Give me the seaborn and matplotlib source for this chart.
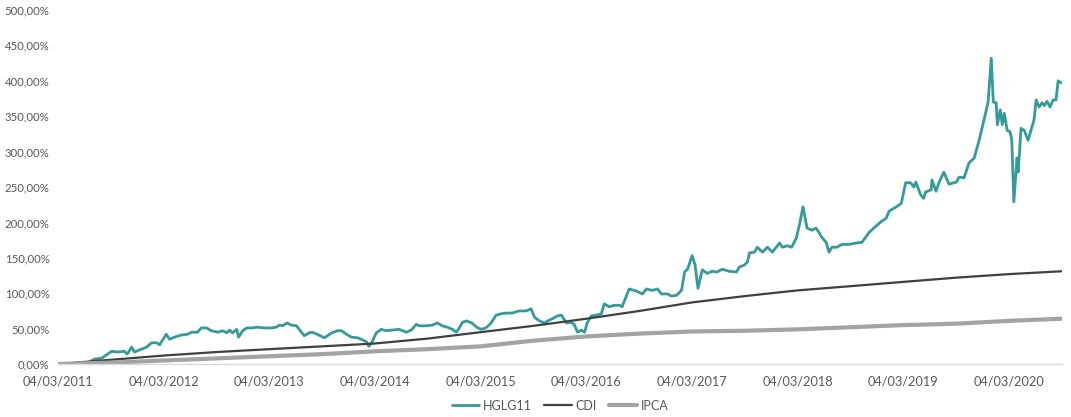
import pandas as pd
import numpy as np
import matplotlib
matplotlib.use('Agg')
import matplotlib.pyplot as plt
import matplotlib.dates as mdates
from matplotlib.ticker import FuncFormatter
import seaborn as sns

# HGLG11 accumulated return (%)
hglg_dates = [
    '2011-03-04', '2011-06-14', '2011-07-08', '2011-08-02', '2011-09-06', '2011-09-26',
    '2011-10-20', '2011-10-30', '2011-11-14', '2011-11-24', '2011-12-18', '2012-01-05',
    '2012-01-22', '2012-02-09', '2012-02-19', '2012-02-26', '2012-03-13', '2012-03-24',
    '2012-04-10', '2012-05-04', '2012-05-25', '2012-06-09', '2012-06-29', '2012-07-12',
    '2012-07-30', '2012-08-16', '2012-09-07', '2012-09-24', '2012-10-08', '2012-10-18',
    '2012-10-28', '2012-11-11', '2012-11-18', '2012-12-02', '2012-12-16', '2013-01-02',
    '2013-01-20', '2013-02-17', '2013-03-11', '2013-03-28', '2013-04-08', '2013-04-18',
    '2013-05-05', '2013-05-19', '2013-06-06', '2013-06-23', '2013-07-03', '2013-07-20',
    '2013-07-30', '2013-08-17', '2013-09-11', '2013-10-05', '2013-10-26', '2013-11-09',
    '2013-11-26', '2013-12-13', '2014-01-04', '2014-01-21', '2014-02-04', '2014-02-11',
    '2014-02-21', '2014-03-09', '2014-03-26', '2014-04-13', '2014-05-03', '2014-05-27',
    '2014-06-21', '2014-07-08', '2014-07-25', '2014-08-05', '2014-08-29', '2014-09-19',
    '2014-10-06', '2014-10-23', '2014-11-10', '2014-11-27', '2014-12-11', '2014-12-21',
    '2015-01-01', '2015-01-15', '2015-02-02', '2015-02-19', '2015-03-06', '2015-03-23',
    '2015-04-10', '2015-04-27', '2015-05-14', '2015-06-01', '2015-06-22', '2015-07-15',
    '2015-08-09', '2015-08-26', '2015-09-07', '2015-09-24', '2015-10-10', '2015-10-28',
    '2015-11-08', '2015-11-25', '2015-12-09', '2015-12-26', '2016-01-13', '2016-01-23',
    '2016-02-03', '2016-02-16', '2016-02-27', '2016-03-07', '2016-03-21', '2016-04-08',
    '2016-04-25', '2016-05-05', '2016-05-22', '2016-06-09', '2016-06-26', '2016-07-06',
    '2016-07-30', '2016-08-24', '2016-09-14', '2016-09-28', '2016-10-18', '2016-11-05',
    '2016-11-19', '2016-12-10', '2016-12-23', '2017-01-10', '2017-01-27', '2017-02-07',
    '2017-02-17', '2017-03-05', '2017-03-15', '2017-03-25', '2017-04-09', '2017-04-26',
    '2017-05-13', '2017-05-30', '2017-06-17', '2017-07-11', '2017-08-05', '2017-08-15',
    '2017-09-02', '2017-09-12', '2017-09-19', '2017-10-06', '2017-10-16', '2017-11-03',
    '2017-11-20', '2017-12-07', '2018-01-01', '2018-01-11', '2018-01-28', '2018-02-12',
    '2018-02-28', '2018-03-12', '2018-03-23', '2018-04-06', '2018-04-23', '2018-05-07',
    '2018-05-17', '2018-05-27', '2018-06-11', '2018-06-21', '2018-07-01', '2018-07-18',
    '2018-08-05', '2018-08-29', '2018-09-23', '2018-10-13', '2018-11-07', '2018-12-01',
    '2018-12-18', '2019-01-05', '2019-01-15', '2019-02-09', '2019-02-26', '2019-03-13',
    '2019-03-30', '2019-04-11', '2019-04-17', '2019-05-04', '2019-05-14', '2019-05-21',
    '2019-06-09', '2019-06-12', '2019-06-26', '2019-07-06', '2019-07-23', '2019-08-10',
    '2019-09-04', '2019-09-14', '2019-10-01', '2019-10-18', '2019-11-05', '2019-11-22',
    '2019-12-09', '2019-12-23', '2020-01-03', '2020-01-10', '2020-01-20', '2020-01-24',
    '2020-02-03', '2020-02-10', '2020-02-17', '2020-02-27', '2020-03-08', '2020-03-14',
    '2020-03-21', '2020-04-01', '2020-04-05', '2020-04-15', '2020-04-26', '2020-05-09',
    '2020-05-30', '2020-06-06', '2020-06-16', '2020-06-27', '2020-07-04', '2020-07-14',
    '2020-07-24', '2020-08-04', '2020-08-14', '2020-08-21', '2020-09-01',
]
hglg_values = [
    0, 1, 7, 8, 18, 17,
    18, 14, 24, 17, 21, 24,
    30, 30, 27, 32, 42, 35,
    38, 41, 42, 45, 45, 51,
    51, 47, 45, 47, 44, 48,
    44, 49, 38, 47, 51, 51,
    52, 51, 51, 52, 55, 54,
    58, 55, 54, 45, 40, 44,
    45, 42, 37, 44, 47, 47,
    42, 38, 37, 34, 31, 25,
    30, 44, 49, 47, 48, 49,
    45, 48, 56, 54, 54, 55,
    58, 54, 52, 49, 45, 51,
    59, 61, 58, 52, 49, 51,
    58, 69, 71, 72, 72, 75,
    75, 78, 66, 61, 58, 62,
    64, 68, 69, 58, 59, 55,
    45, 48, 45, 58, 68, 69,
    71, 85, 81, 83, 83, 81,
    106, 103, 99, 106, 104, 106,
    99, 99, 96, 97, 104, 130,
    134, 153, 140, 107, 133, 128,
    131, 130, 134, 131, 130, 137,
    140, 144, 157, 158, 165, 158,
    165, 158, 171, 165, 167, 165,
    178, 199, 222, 192, 189, 192,
    186, 179, 172, 158, 165, 165,
    169, 169, 171, 172, 186, 195,
    201, 206, 216, 222, 227, 256,
    256, 250, 257, 239, 234, 243,
    246, 260, 244, 256, 271, 254,
    257, 264, 263, 284, 291, 316,
    345, 370, 432, 370, 369, 338,
    359, 338, 354, 330, 328, 316,
    229, 291, 271, 333, 330, 316,
    345, 373, 363, 369, 365, 371,
    363, 373, 373, 400, 397,
]

# CDI and IPCA accumulated (%), semiannual readings
bench_dates = [
    '2011-03-04', '2011-09-04', '2012-03-04', '2012-09-04', '2013-03-04', '2013-09-04',
    '2014-03-04', '2014-09-04', '2015-03-04', '2015-09-04', '2016-03-04', '2016-09-04',
    '2017-03-04', '2017-09-04', '2018-03-04', '2018-09-04', '2019-03-04', '2019-09-04',
    '2020-03-04', '2020-09-01',
]
cdi_values = [0, 6, 12, 17, 21, 25, 29, 36, 45, 54, 64, 75, 87, 96, 104, 110, 116, 122, 127, 131]
ipca_values = [0, 2, 5, 8, 11, 14, 18, 21, 25, 33, 39, 43, 46, 47, 49, 52, 55, 57, 61, 64]

hglg = pd.DataFrame({'Data': pd.to_datetime(hglg_dates), 'Retorno': hglg_values})
bench = pd.DataFrame({'Data': pd.to_datetime(bench_dates), 'CDI': cdi_values, 'IPCA': ipca_values})

sns.set_style('white')
plt.rcParams['font.family'] = ['Lato', 'DejaVu Sans']

fig = plt.figure(figsize=(10.71, 4.17), dpi=100)
ax = fig.add_axes([0.054, 0.127, 0.938, 0.849])

sns.lineplot(x='Data', y='Retorno', data=hglg, ax=ax, color='#339C9B', linewidth=2.0, label='HGLG11')
sns.lineplot(x='Data', y='CDI', data=bench, ax=ax, color='#404040', linewidth=1.6, label='CDI')
sns.lineplot(x='Data', y='IPCA', data=bench, ax=ax, color='#A3A3A3', linewidth=3.0, label='IPCA')

ax.set_ylim(0, 500)
ax.set_yticks(np.arange(0, 501, 50))
ax.yaxis.set_major_formatter(FuncFormatter(lambda v, p: f'{v:.2f}'.replace('.', ',') + '%'))

xticks = pd.date_range('2011-03-04', periods=10, freq=pd.DateOffset(years=1))
ax.set_xticks(xticks)
ax.xaxis.set_major_formatter(mdates.DateFormatter('%d/%m/%Y'))
ax.set_xlim(pd.Timestamp('2011-03-04'), pd.Timestamp('2020-09-05'))

ax.set_xlabel('')
ax.set_ylabel('')
for s in ['top', 'right', 'left']:
    ax.spines[s].set_visible(False)
ax.spines['bottom'].set_color('#D9D9D9')
ax.spines['bottom'].set_linewidth(1.0)
ax.tick_params(axis='x', colors='#D9D9D9', length=4, width=1, labelcolor='#595959', labelsize=9.2, pad=4)
ax.tick_params(axis='y', length=0, labelcolor='#595959', labelsize=8.2, pad=6)

ax.legend(loc='center', bbox_to_anchor=(0.5, -0.118), ncol=3, frameon=False,
          fontsize=9, handlelength=2.2, columnspacing=1.0, handletextpad=0.3,
          labelcolor='#595959')

fig.savefig('out.png', dpi=100)
